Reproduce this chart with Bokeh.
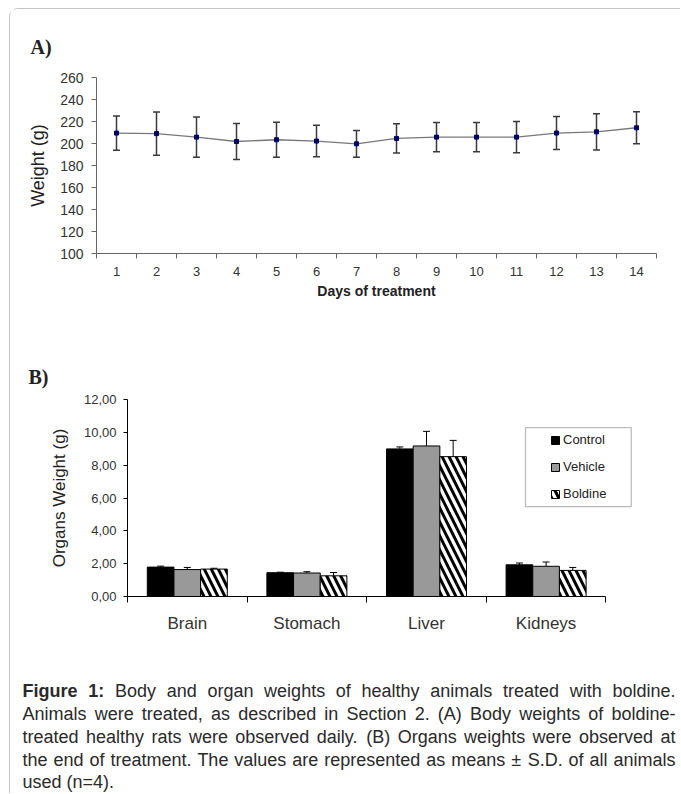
from bokeh.plotting import figure
from bokeh.models import (ColumnDataSource, Range1d, FixedTicker, Whisker, TeeHead,
                          Legend, LegendItem, BoxAnnotation)
from bokeh.embed import file_html
from bokeh.resources import INLINE
from bokeh.core.properties import value

# ---------------- data ----------------
days = list(range(1, 15))
weight_mean = [209.5, 209.0, 205.8, 201.8, 203.4, 202.2, 199.7, 204.6, 205.8, 205.8, 205.8, 209.5, 210.6, 214.3]
weight_sd = [15.6, 19.7, 18.4, 16.4, 15.9, 14.3, 12.1, 13.3, 13.2, 13.2, 14.3, 15.0, 16.4, 14.6]
weight_ticks = [100, 120, 140, 160, 180, 200, 220, 240, 260]

organs = ["Brain", "Stomach", "Liver", "Kidneys"]
control = [1.79, 1.45, 8.99, 1.93]
control_sd = [0.06, 0.03, 0.12, 0.11]
vehicle = [1.64, 1.43, 9.17, 1.84]
vehicle_sd = [0.13, 0.08, 0.89, 0.26]
boldine = [1.67, 1.26, 8.52, 1.59]
boldine_sd = [0.05, 0.20, 0.99, 0.18]
organ_ticks = [0, 2, 4, 6, 8, 10, 12]
organ_tick_labels = ["0,00", "2,00", "4,00", "6,00", "8,00", "10,00", "12,00"]
groups = ["Control", "Vehicle", "Boldine"]

caption_lines = [
    ["Figure 1:", "Body and organ weights of healthy animals treated with boldine."],
    ["", "Animals were treated, as described in Section 2. (A) Body weights of boldine-"],
    ["", "treated healthy rats were observed daily. (B) Organs weights were observed at"],
    ["", "the end of treatment. The values are represented as means \u00b1 S.D. of all animals"],
    ["", "used (n=4)."],
]

SANS = "Liberation Sans"
SERIF = "Liberation Serif"
TXT = "#333333"
BORDER = "1px solid #c4c4c4"

# ---------------- panel A ----------------
pa = figure(width=671, height=321, x_range=Range1d(0.5, 14.5), y_range=Range1d(100, 260),
            output_backend="svg", toolbar_location=None,
            min_border_left=86, min_border_right=25, min_border_top=68, min_border_bottom=77,
            margin=(8, 0, 0, 9),
            styles={"border-left": BORDER, "border-top": BORDER, "border-top-left-radius": "9px"})
pa.outline_line_color = None
pa.grid.visible = False

src_a = ColumnDataSource(dict(x=days, y=weight_mean,
                              lo=[m - s for m, s in zip(weight_mean, weight_sd)],
                              hi=[m + s for m, s in zip(weight_mean, weight_sd)]))
wa = Whisker(base="x", lower="lo", upper="hi", source=src_a, line_color="#3a3a3a", line_width=1.5,
             upper_head=TeeHead(size=7, line_color="#3a3a3a", line_width=1.5),
             lower_head=TeeHead(size=7, line_color="#3a3a3a", line_width=1.5))
pa.add_layout(wa)
pa.line("x", "y", source=src_a, line_color="#777777", line_width=1.3)
pa.scatter("x", "y", source=src_a, marker="square", size=4, fill_color="#000066", line_color="#000066")

xa = pa.xaxis[0]
xa.ticker = FixedTicker(ticks=days, minor_ticks=[d - 0.5 for d in days] + [14.5])
xa.major_tick_out = 0
xa.major_tick_in = 0
xa.minor_tick_out = 5
xa.minor_tick_in = 0
xa.minor_tick_line_color = "#666666"
xa.axis_line_color = "#666666"
xa.major_label_text_font = SANS
xa.major_label_text_font_size = "13px"
xa.major_label_text_color = TXT
xa.major_label_standoff = 8
xa.axis_label = "Days of treatment"
xa.axis_label_text_font = SANS
xa.axis_label_text_font_size = "14px"
xa.axis_label_text_font_style = "bold"
xa.axis_label_text_color = "#222222"
xa.axis_label_standoff = 4

ya = pa.yaxis[0]
ya.ticker = FixedTicker(ticks=weight_ticks, minor_ticks=[])
ya.major_tick_out = 5
ya.major_tick_in = 0
ya.major_tick_line_color = "#666666"
ya.axis_line_color = "#666666"
ya.major_label_text_font = SANS
ya.major_label_text_font_size = "14px"
ya.major_label_text_color = TXT
ya.major_label_standoff = 8
ya.axis_label = "Weight (g)"
ya.axis_label_text_font = SANS
ya.axis_label_text_font_size = "18px"
ya.axis_label_text_font_style = "normal"
ya.axis_label_text_color = "#222222"
ya.axis_label_standoff = 9

pa.title.text = "A)"
pa.title.text_font = SERIF
pa.title.text_font_size = "20px"
pa.title.text_font_style = "bold"
pa.title.text_color = "#222222"
pa.title.align = "left"
pa.title.offset = -66
pa.title.standoff = 40

# ---------------- panel B ----------------
unit = 119.6
pb = figure(width=671, height=325, x_range=Range1d(0, 523 / unit), y_range=Range1d(0, 12),
            output_backend="svg", toolbar_location=None,
            min_border_left=117, min_border_right=31, min_border_top=70, min_border_bottom=58,
            margin=(0, 0, 0, 9), styles={"border-left": BORDER})
pb.outline_line_color = None
pb.grid.visible = False

bw = 0.223
offsets = [-bw, 0.0, bw]
series = [control, vehicle, boldine]
series_sd = [control_sd, vehicle_sd, boldine_sd]
renderers = []
for k, (vals, sds) in enumerate(zip(series, series_sd)):
    xs = [i + 0.5 + offsets[k] for i in range(len(organs))]
    src = ColumnDataSource(dict(x=xs, top=vals, up=[v + s for v, s in zip(vals, sds)]))
    if k == 0:
        r = pb.vbar(x="x", top="top", width=bw, source=src, fill_color="black", line_color="black", line_width=1)
    elif k == 1:
        r = pb.vbar(x="x", top="top", width=bw, source=src, fill_color="#999999", line_color="black", line_width=1)
    else:
        r = pb.vbar(x="x", top="top", width=bw, source=src, fill_color="white", line_color="black", line_width=1,
                    hatch_pattern="\\", hatch_color="black", hatch_weight=3, hatch_scale=14)
    renderers.append(r)
    pb.add_layout(Whisker(base="x", lower="top", upper="up", source=src, line_color="black", line_width=1,
                          upper_head=TeeHead(size=7, line_color="black", line_width=1), lower_head=None,
                          level="glyph"))

xb = pb.xaxis[0]
xb.ticker = FixedTicker(ticks=[i + 0.5 for i in range(len(organs))], minor_ticks=list(range(len(organs) + 1)))
xb.major_label_overrides = {i + 0.5: name for i, name in enumerate(organs)}
xb.bounds = (0, len(organs))
xb.major_tick_out = 0
xb.major_tick_in = 0
xb.minor_tick_out = 6
xb.minor_tick_in = 0
xb.minor_tick_line_color = "black"
xb.axis_line_color = "black"
xb.major_label_text_font = SANS
xb.major_label_text_font_size = "17px"
xb.major_label_text_color = TXT
xb.major_label_standoff = 11

yb = pb.yaxis[0]
yb.ticker = FixedTicker(ticks=organ_ticks, minor_ticks=[])
yb.major_label_overrides = {t: l for t, l in zip(organ_ticks, organ_tick_labels)}
yb.major_tick_out = 4
yb.major_tick_in = 0
yb.major_tick_line_color = "black"
yb.axis_line_color = "black"
yb.major_label_text_font = SANS
yb.major_label_text_font_size = "13px"
yb.major_label_text_color = TXT
yb.major_label_standoff = 7
yb.axis_label = "Organs Weight (g)"
yb.axis_label_text_font = SANS
yb.axis_label_text_font_size = "17px"
yb.axis_label_text_font_style = "normal"
yb.axis_label_text_color = "#222222"
yb.axis_label_standoff = 12

pb.add_layout(BoxAnnotation(left=3.328, right=4.212, top=10.29, bottom=5.48, fill_color="white",
                            fill_alpha=1.0, line_color="#222222", line_width=1.3))
legend = Legend(items=[LegendItem(label=g, renderers=[r]) for g, r in zip(groups, renderers)],
                location=(423, 95), padding=0, margin=0, spacing=12, glyph_width=10, glyph_height=10,
                label_height=14, label_standoff=3, border_line_color=None, background_fill_alpha=0,
                label_text_font=SANS, label_text_font_size="13px", label_text_color="#222222")
pb.add_layout(legend)

pb.title.text = "B)"
pb.title.text_font = SERIF
pb.title.text_font_size = "20px"
pb.title.text_font_style = "bold"
pb.title.text_color = "#222222"
pb.title.align = "left"
pb.title.offset = -99
pb.title.standoff = 24

# ---------------- caption ----------------
REG = {' ': 278, '!': 278, '(': 333, ')': 333, ',': 278, '-': 333, '.': 278, ':': 278, '=': 584,
       '\u00b1': 584, 'A': 667, 'B': 667, 'C': 722, 'D': 722, 'E': 667, 'F': 611, 'O': 778,
       'S': 667, 'T': 611, 'W': 944,
       'a': 556, 'b': 556, 'c': 500, 'd': 556, 'e': 556, 'f': 278, 'g': 556, 'h': 556, 'i': 222,
       'j': 222, 'k': 500, 'l': 222, 'm': 833, 'n': 556, 'o': 556, 'p': 556, 'q': 556, 'r': 333,
       's': 500, 't': 278, 'u': 556, 'v': 500, 'w': 722, 'x': 500, 'y': 500, 'z': 500}
BOLD = {' ': 278, 'F': 611, 'i': 278, 'g': 611, 'u': 611, 'r': 389, 'e': 556, ':': 333}
for dch in "0123456789":
    REG[dch] = 556
    BOLD[dch] = 556

FS = 18.0
def tw(word, bold=False):
    tab = BOLD if bold else REG
    return sum(tab.get(ch, 556) for ch in word) * FS / 1000.0

pc = figure(width=671, height=139, x_range=Range1d(10, 681), y_range=Range1d(794, 655),
            output_backend="svg", toolbar_location=None, x_axis_location=None, y_axis_location=None,
            min_border_left=0, min_border_right=0, min_border_top=0, min_border_bottom=0,
            margin=(0, 0, 0, 9), styles={"border-left": BORDER})
pc.outline_line_color = None
pc.grid.visible = False

X0, X1 = 22.0, 675.0
line_y = [691, 714, 737, 760, 782]
wx, wy, wt, wb = [], [], [], []
for li, (bold_part, reg_part) in enumerate(caption_lines):
    words = [(w, True) for w in bold_part.split()] + [(w, False) for w in reg_part.split()]
    widths = [tw(w, b) for w, b in words]
    justify = li < len(caption_lines) - 1
    if justify and len(words) > 1:
        gap = (X1 - X0 - sum(widths)) / (len(words) - 1)
    else:
        gap = REG[' '] * FS / 1000.0
    x = X0
    for (w, b), wd in zip(words, widths):
        wx.append(x); wy.append(line_y[li]); wt.append(w); wb.append("bold" if b else "normal")
        x += wd + gap
pc.text(x=wx, y=wy, text=wt, text_font_style=wb, text_font=value(SANS), text_font_size="18px",
        text_color="#2a2a2a", text_baseline="middle", text_align="left")

open("out.html", "w").write(file_html([pa, pb, pc], INLINE))
